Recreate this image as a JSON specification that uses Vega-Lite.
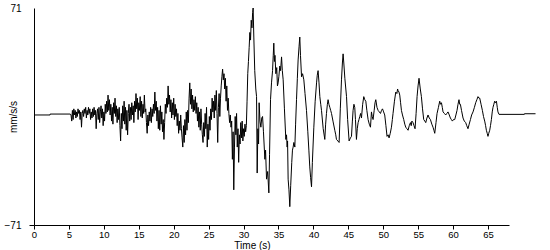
{
"$schema": "https://vega.github.io/schema/vega-lite/v6.json",
"width": 475, "height": 217,
"autosize": "none",
"padding": {"left": 34, "top": 8, "right": 41, "bottom": 25},
"background": "white",
"config": {"view": {"stroke": null}, "font": "Liberation Sans"},
"data": {"values": [
{"t":0,"v":1},{"t":2.3,"v":1},{"t":2.31,"v":1.6},{"t":5.2,"v":1.6},
{"t":5.3,"v":1},{"t":5.4,"v":-3},{"t":5.5,"v":4},{"t":5.6,"v":-2},{"t":5.7,"v":5},{"t":5.8,"v":1},{"t":5.9,"v":4},{"t":6.0,"v":-1},
{"t":6.1,"v":3},{"t":6.2,"v":0},{"t":6.3,"v":5},{"t":6.4,"v":2},{"t":6.5,"v":4},{"t":6.6,"v":-2},{"t":6.7,"v":3},{"t":6.8,"v":-7},{"t":6.9,"v":2},{"t":7.0,"v":4},
{"t":7.1,"v":0},{"t":7.2,"v":5},{"t":7.3,"v":2},{"t":7.4,"v":6},{"t":7.5,"v":-1},{"t":7.6,"v":4},{"t":7.7,"v":1},{"t":7.8,"v":6},{"t":7.9,"v":2},{"t":8.0,"v":5},
{"t":8.1,"v":-2},{"t":8.2,"v":3},{"t":8.3,"v":-1},{"t":8.4,"v":5},{"t":8.5,"v":0},{"t":8.6,"v":6},{"t":8.7,"v":1},{"t":8.8,"v":4},{"t":8.9,"v":-8},{"t":9.0,"v":2},
{"t":9.1,"v":5},{"t":9.2,"v":-2},{"t":9.3,"v":6},{"t":9.4,"v":-4},{"t":9.5,"v":3},{"t":9.6,"v":7},{"t":9.7,"v":-1},{"t":9.8,"v":5},{"t":9.9,"v":-6},{"t":10.0,"v":3},
{"t":10.1,"v":-3},{"t":10.2,"v":8},{"t":10.3,"v":2},{"t":10.4,"v":10},{"t":10.5,"v":3},{"t":10.6,"v":14},{"t":10.7,"v":4},{"t":10.8,"v":11},{"t":10.9,"v":1},{"t":11.0,"v":8},
{"t":11.1,"v":-3},{"t":11.2,"v":6},{"t":11.3,"v":-5},{"t":11.4,"v":9},{"t":11.5,"v":2},{"t":11.6,"v":12},{"t":11.7,"v":0},{"t":11.8,"v":7},{"t":11.9,"v":-4},{"t":12.0,"v":5},
{"t":12.1,"v":-2},{"t":12.2,"v":6},{"t":12.3,"v":-6},{"t":12.4,"v":-16},{"t":12.5,"v":2},{"t":12.6,"v":-8},{"t":12.7,"v":7},{"t":12.8,"v":-3},{"t":12.9,"v":10},{"t":13.0,"v":-5},
{"t":13.1,"v":6},{"t":13.2,"v":-9},{"t":13.3,"v":4},{"t":13.4,"v":-12},{"t":13.5,"v":2},{"t":13.6,"v":8},{"t":13.7,"v":-3},{"t":13.8,"v":6},{"t":13.9,"v":-2},{"t":14.0,"v":9},
{"t":14.1,"v":1},{"t":14.2,"v":7},{"t":14.3,"v":-4},{"t":14.4,"v":10},{"t":14.5,"v":3},{"t":14.6,"v":15},{"t":14.7,"v":5},{"t":14.8,"v":12},{"t":14.9,"v":-2},{"t":15.0,"v":9},
{"t":15.1,"v":4},{"t":15.2,"v":13},{"t":15.3,"v":0},{"t":15.4,"v":10},{"t":15.5,"v":-1},{"t":15.6,"v":8},{"t":15.7,"v":2},{"t":15.8,"v":14},{"t":15.9,"v":3},{"t":16.0,"v":5},
{"t":16.1,"v":-4},{"t":16.2,"v":-11},{"t":16.3,"v":1},{"t":16.4,"v":-6},{"t":16.5,"v":3},{"t":16.6,"v":-3},{"t":16.7,"v":6},{"t":16.8,"v":-4},{"t":16.9,"v":5},{"t":17.0,"v":0},
{"t":17.1,"v":8},{"t":17.2,"v":2},{"t":17.3,"v":16},{"t":17.4,"v":4},{"t":17.5,"v":10},{"t":17.6,"v":-3},{"t":17.7,"v":6},{"t":17.8,"v":-8},{"t":17.9,"v":4},{"t":18.0,"v":-9},
{"t":18.1,"v":7},{"t":18.2,"v":-5},{"t":18.3,"v":3},{"t":18.4,"v":-10},{"t":18.5,"v":-2},{"t":18.6,"v":-15},{"t":18.7,"v":-4},{"t":18.8,"v":8},{"t":18.9,"v":2},{"t":19.0,"v":12},
{"t":19.1,"v":6},{"t":19.2,"v":20},{"t":19.3,"v":8},{"t":19.4,"v":14},{"t":19.5,"v":3},{"t":19.6,"v":11},{"t":19.7,"v":-1},{"t":19.8,"v":9},{"t":19.9,"v":1},{"t":20.0,"v":12},
{"t":20.1,"v":-2},{"t":20.2,"v":8},{"t":20.3,"v":0},{"t":20.4,"v":5},{"t":20.5,"v":-6},{"t":20.6,"v":2},{"t":20.7,"v":-11},{"t":20.8,"v":-3},{"t":20.9,"v":-9},{"t":21.0,"v":1},
{"t":21.1,"v":-8},{"t":21.2,"v":-14},{"t":21.3,"v":-20},{"t":21.4,"v":-6},{"t":21.5,"v":-17},{"t":21.6,"v":-2},{"t":21.7,"v":-12},{"t":21.8,"v":3},{"t":21.9,"v":-9},{"t":22.0,"v":4},
{"t":22.1,"v":-4},{"t":22.2,"v":12},{"t":22.3,"v":22},{"t":22.4,"v":8},{"t":22.5,"v":18},{"t":22.6,"v":5},{"t":22.7,"v":14},{"t":22.8,"v":3},{"t":22.9,"v":11},{"t":23.0,"v":4},
{"t":23.1,"v":13},{"t":23.2,"v":2},{"t":23.3,"v":9},{"t":23.4,"v":-3},{"t":23.5,"v":6},{"t":23.6,"v":-7},{"t":23.7,"v":3},{"t":23.8,"v":-9},{"t":23.9,"v":5},{"t":24.0,"v":-5},
{"t":24.1,"v":-12},{"t":24.2,"v":-17},{"t":24.3,"v":-4},{"t":24.4,"v":-13},{"t":24.5,"v":2},{"t":24.6,"v":-8},{"t":24.7,"v":6},{"t":24.8,"v":-20},{"t":24.9,"v":-5},{"t":25.0,"v":-15},
{"t":25.1,"v":0},{"t":25.2,"v":-9},{"t":25.3,"v":5},{"t":25.4,"v":-2},{"t":25.5,"v":12},{"t":25.6,"v":3},{"t":25.7,"v":10},{"t":25.8,"v":-1},{"t":25.9,"v":14},{"t":26.0,"v":4},
{"t":26.1,"v":17},{"t":26.2,"v":2},{"t":26.3,"v":-17},{"t":26.4,"v":6},{"t":26.5,"v":15},{"t":26.6,"v":0},{"t":26.7,"v":12},{"t":26.8,"v":20},{"t":26.9,"v":26},{"t":27.0,"v":31},
{"t":27.1,"v":24},{"t":27.2,"v":28},{"t":27.3,"v":18},{"t":27.4,"v":25},{"t":27.5,"v":10},{"t":27.6,"v":20},{"t":27.7,"v":4},{"t":27.8,"v":12},{"t":27.9,"v":2},{"t":28.0,"v":-4},
{"t":28.1,"v":1},{"t":28.2,"v":-7},{"t":28.3,"v":-3},{"t":28.4,"v":-28},{"t":28.5,"v":-10},{"t":28.6,"v":-48},{"t":28.7,"v":-20},{"t":28.8,"v":0},{"t":28.9,"v":-12},{"t":29.0,"v":2},
{"t":29.1,"v":-20},{"t":29.2,"v":-8},{"t":29.3,"v":-30},{"t":29.4,"v":-12},{"t":29.5,"v":-18},{"t":29.6,"v":-4},{"t":29.7,"v":-14},{"t":29.8,"v":-3},{"t":29.9,"v":-16},{"t":30.0,"v":-8},
{"t":30.1,"v":-13},{"t":30.2,"v":-5},{"t":30.3,"v":-10},{"t":30.4,"v":-6},{"t":30.5,"v":10},{"t":30.6,"v":28},{"t":30.7,"v":36},{"t":30.8,"v":45},{"t":30.9,"v":55},{"t":31.0,"v":50},
{"t":31.1,"v":63},{"t":31.2,"v":58},{"t":31.3,"v":68},{"t":31.37,"v":71},{"t":31.47,"v":52},{"t":31.6,"v":30},{"t":31.75,"v":18},{"t":31.86,"v":13},{"t":31.95,"v":-37},{"t":32.05,"v":-8},
{"t":32.15,"v":-18},{"t":32.23,"v":9},{"t":32.35,"v":-3},{"t":32.48,"v":-7},{"t":32.6,"v":-1},{"t":32.72,"v":0},{"t":32.85,"v":-10},{"t":33.05,"v":-28},{"t":33.15,"v":-22},{"t":33.29,"v":-41},
{"t":33.45,"v":-36},{"t":33.62,"v":-50},{"t":33.72,"v":-25},{"t":33.86,"v":11},{"t":34.0,"v":22},{"t":34.15,"v":30},{"t":34.25,"v":40},{"t":34.33,"v":48},{"t":34.42,"v":36},{"t":34.5,"v":40},
{"t":34.62,"v":28},{"t":34.75,"v":32},{"t":34.85,"v":20},{"t":34.95,"v":22},{"t":35.05,"v":26},{"t":35.19,"v":33},{"t":35.3,"v":30},{"t":35.44,"v":39},{"t":35.55,"v":30},{"t":35.67,"v":24},
{"t":35.85,"v":5},{"t":36.05,"v":-15},{"t":36.15,"v":-12},{"t":36.24,"v":-20},{"t":36.3,"v":-16},{"t":36.38,"v":-41},{"t":36.5,"v":-48},{"t":36.62,"v":-59},{"t":36.75,"v":-45},{"t":36.9,"v":-30},
{"t":37.0,"v":-22},{"t":37.1,"v":-20},{"t":37.2,"v":-17},{"t":37.34,"v":-20},{"t":37.45,"v":-5},{"t":37.58,"v":11},{"t":37.7,"v":25},{"t":37.81,"v":37},{"t":37.95,"v":46},{"t":38.05,"v":52},
{"t":38.15,"v":40},{"t":38.3,"v":26},{"t":38.45,"v":28},{"t":38.63,"v":24},{"t":38.8,"v":15},{"t":39.01,"v":4},{"t":39.2,"v":-10},{"t":39.35,"v":-22},{"t":39.48,"v":-33},{"t":39.6,"v":-40},
{"t":39.73,"v":-46},{"t":39.85,"v":-30},{"t":40.06,"v":-7},{"t":40.25,"v":10},{"t":40.45,"v":22},{"t":40.55,"v":27},{"t":40.67,"v":30},{"t":40.8,"v":22},{"t":40.92,"v":13},{"t":41.05,"v":8},
{"t":41.16,"v":4},{"t":41.4,"v":-8},{"t":41.63,"v":-15},{"t":41.75,"v":-5},{"t":41.87,"v":2},{"t":42.0,"v":8},{"t":42.1,"v":11},{"t":42.22,"v":8},{"t":42.35,"v":6},{"t":42.47,"v":4},
{"t":42.59,"v":2},{"t":42.8,"v":-3},{"t":43.06,"v":-9},{"t":43.2,"v":-12},{"t":43.3,"v":-15},{"t":43.5,"v":-16},{"t":43.68,"v":-17},{"t":43.85,"v":5},{"t":44.02,"v":24},{"t":44.15,"v":35},
{"t":44.25,"v":41},{"t":44.35,"v":35},{"t":44.5,"v":25},{"t":44.74,"v":13},{"t":44.9,"v":-2},{"t":45.11,"v":-16},{"t":45.3,"v":-14},{"t":45.45,"v":-13},{"t":45.58,"v":-3},{"t":45.68,"v":4},
{"t":45.8,"v":8},{"t":45.92,"v":6},{"t":46.02,"v":-2},{"t":46.16,"v":-15},{"t":46.28,"v":-8},{"t":46.4,"v":-4},{"t":46.52,"v":-2},{"t":46.64,"v":0},{"t":46.76,"v":2},{"t":46.88,"v":-1},
{"t":47.05,"v":8},{"t":47.21,"v":13},{"t":47.35,"v":11},{"t":47.5,"v":10},{"t":47.65,"v":4},{"t":47.83,"v":-2},{"t":48.0,"v":-5},{"t":48.17,"v":-7},{"t":48.31,"v":3},{"t":48.42,"v":0},
{"t":48.54,"v":-2},{"t":48.7,"v":4},{"t":48.82,"v":9},{"t":48.93,"v":11},{"t":49.1,"v":6},{"t":49.26,"v":4},{"t":49.43,"v":3},{"t":49.6,"v":2},{"t":49.75,"v":4},{"t":49.89,"v":5},
{"t":50.05,"v":3},{"t":50.21,"v":1},{"t":50.38,"v":-6},{"t":50.54,"v":-13},{"t":50.7,"v":-12},{"t":50.83,"v":-14},{"t":51.0,"v":-11},{"t":51.17,"v":-7},{"t":51.3,"v":-2},{"t":51.4,"v":2},
{"t":51.6,"v":10},{"t":51.79,"v":16},{"t":51.95,"v":15},{"t":52.05,"v":18},{"t":52.12,"v":17},{"t":52.25,"v":16},{"t":52.36,"v":14},{"t":52.48,"v":9},{"t":52.6,"v":4},{"t":52.75,"v":1},
{"t":52.93,"v":-2},{"t":53.08,"v":-5},{"t":53.22,"v":-7},{"t":53.38,"v":-8},{"t":53.55,"v":-9},{"t":53.72,"v":-6},{"t":53.89,"v":-4},{"t":54.0,"v":-6},{"t":54.1,"v":-3},{"t":54.26,"v":-4},
{"t":54.4,"v":-6},{"t":54.55,"v":-8},{"t":54.7,"v":2},{"t":54.84,"v":13},{"t":54.98,"v":20},{"t":55.12,"v":25},{"t":55.3,"v":18},{"t":55.46,"v":13},{"t":55.62,"v":5},{"t":55.79,"v":-2},
{"t":55.95,"v":-3},{"t":56.08,"v":-4},{"t":56.25,"v":-1},{"t":56.41,"v":1},{"t":56.58,"v":-1},{"t":56.75,"v":-2},{"t":56.95,"v":-5},{"t":57.12,"v":-7},{"t":57.25,"v":-9},{"t":57.37,"v":-11},
{"t":57.55,"v":-4},{"t":57.7,"v":2},{"t":57.9,"v":6},{"t":58.08,"v":10},{"t":58.2,"v":8},{"t":58.33,"v":9},{"t":58.45,"v":6},{"t":58.56,"v":3},{"t":58.75,"v":2},{"t":58.94,"v":1},
{"t":59.1,"v":2},{"t":59.27,"v":3},{"t":59.45,"v":1},{"t":59.61,"v":-1},{"t":59.75,"v":-2},{"t":59.9,"v":-3},{"t":60.05,"v":-2},{"t":60.23,"v":-2},{"t":60.4,"v":1},{"t":60.56,"v":4},
{"t":60.7,"v":8},{"t":60.84,"v":11},{"t":60.94,"v":8},{"t":61.04,"v":8},{"t":61.2,"v":4},{"t":61.42,"v":-1},{"t":61.6,"v":-3},{"t":61.8,"v":-4},{"t":61.95,"v":-6},{"t":62.13,"v":-8},
{"t":62.3,"v":-5},{"t":62.48,"v":-2},{"t":62.65,"v":1},{"t":62.85,"v":3},{"t":63.05,"v":6},{"t":63.23,"v":9},{"t":63.4,"v":11},{"t":63.56,"v":13},{"t":63.7,"v":12},{"t":63.81,"v":12},
{"t":64.0,"v":8},{"t":64.19,"v":4},{"t":64.35,"v":0},{"t":64.52,"v":-3},{"t":64.65,"v":-6},{"t":64.76,"v":-9},{"t":64.88,"v":-11},{"t":64.99,"v":-13},{"t":65.1,"v":-11},{"t":65.24,"v":-9},
{"t":65.35,"v":-6},{"t":65.48,"v":-2},{"t":65.6,"v":3},{"t":65.71,"v":6},{"t":65.83,"v":8},{"t":65.95,"v":10},{"t":66.05,"v":9},{"t":66.2,"v":10},{"t":66.32,"v":6},{"t":66.42,"v":3},
{"t":66.57,"v":1.4},{"t":70.2,"v":1.4},{"t":70.21,"v":1.8},{"t":71.8,"v":1.8}
]},
"mark": {"type": "line", "color": "black", "strokeWidth": 1, "clip": false},
"encoding": {
"x": {"field": "t", "type": "quantitative", "scale": {"domain": [0, 68], "nice": false, "zero": false},
"axis": {"title": "Time (s)", "values": [0,5,10,15,20,25,30,35,40,45,50,55,60,65], "grid": false, "domainColor": "black", "tickColor": "black", "tickSize": 4, "labelPadding": 0, "labelColor": "black", "labelFontSize": 9.5, "labelFlush": false, "labelOverlap": false, "titleFontSize": 10, "titleFontWeight": "normal", "titleColor": "black", "titleX": 218, "titleY": 25, "titleBaseline": "bottom"}},
"y": {"field": "v", "type": "quantitative", "scale": {"domain": [-71, 71], "nice": false},
"axis": {"title": "mm/s/s", "values": [-71, 71], "grid": false, "domainColor": "black", "tickColor": "black", "tickSize": 5, "tickOpacity": {"condition": {"test": "datum.value < 0", "value": 1}, "value": 0}, "labelPadding": 8, "labelColor": "black", "labelFontSize": 10, "labelFlush": false, "titleFontSize": 10, "titleFontWeight": "normal", "titleColor": "black", "titleX": -21, "titleBaseline": "middle"}}
}
}
